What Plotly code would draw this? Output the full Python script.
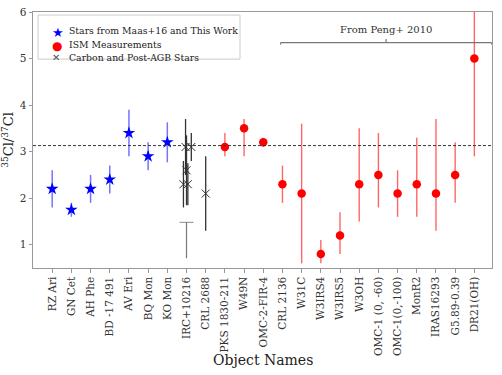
import plotly.graph_objects as go

names = ["RZ Ari", "GN Cet", "AH Phe", "BD -17 491", "AV Eri", "BQ Mon", "KO Mon",
         "IRC+10216", "CRL 2688", "PKS 1830-211", "W49N", "OMC-2-FIR-4", "CRL 2136",
         "W31C", "W3IRS4", "W3IRS5", "W3OH", "OMC-1 (0, -60)", "OMC-1(0,-100)",
         "MonR2", "IRAS16293", "G5.89-0.39", "DR21(OH)"]

# stars from Maas+16 and this work
star_names = ["RZ Ari", "GN Cet", "AH Phe", "BD -17 491", "AV Eri", "BQ Mon", "KO Mon"]
star_ratio = [2.2, 1.75, 2.2, 2.4, 3.4, 2.9, 3.2]
star_err = [0.4, 0.15, 0.3, 0.3, 0.5, 0.3, 0.43]

# carbon and post-AGB stars (several IRC+10216 measurements, jittered)
carbon_names = ["IRC+10216", "IRC+10216", "IRC+10216", "IRC+10216", "IRC+10216", "CRL 2688"]
carbon_ratio = [2.3, 3.1, 2.6, 2.3, 3.1, 2.1]
carbon_err = [0.5, 0.6, 0.75, 0.45, 0.3, 0.8]
carbon_jitter = [-0.16, -0.05, 0.0, 0.07, 0.25, 0.0]

# IRC+10216 limit
limit_name = "IRC+10216"
limit_top = 1.48
limit_bottom = 0.71

# ISM measurements
ism_names = ["PKS 1830-211", "W49N", "OMC-2-FIR-4", "CRL 2136", "W31C", "W3IRS4", "W3IRS5",
             "W3OH", "OMC-1 (0, -60)", "OMC-1(0,-100)", "MonR2", "IRAS16293",
             "G5.89-0.39", "DR21(OH)"]
ism_ratio = [3.1, 3.5, 3.2, 2.3, 2.1, 0.8, 1.2, 2.3, 2.5, 2.1, 2.3, 2.1, 2.5, 5.0]
ism_err_plus = [0.3, 0.2, 0.1, 0.4, 1.5, 0.3, 0.5, 1.2, 0.9, 0.5, 1.0, 1.6, 0.7, 2.0]
ism_err_minus = [0.2, 0.6, 0.1, 0.4, 1.5, 0.2, 0.4, 0.8, 0.7, 0.5, 0.7, 0.8, 0.6, 2.1]

solar_ratio = 3.13
peng_first, peng_last = "CRL 2136", "DR21(OH)"

legend_labels = ["Stars from Maas+16 and This Work", "ISM Measurements",
                 "Carbon and Post-AGB Stars"]

idx = {n: i for i, n in enumerate(names)}
font = "DejaVu Serif"

fig = go.Figure()

fig.add_hline(y=solar_ratio, line=dict(color="#333", width=1, dash="3px,2px"))

fig.add_trace(go.Scatter(
    x=[idx[n] for n in star_names], y=star_ratio, mode="markers",
    name=legend_labels[0],
    marker=dict(symbol="star", size=9.5, color="blue"),
    error_y=dict(type="data", array=star_err, color="rgba(0,0,255,0.55)",
                 thickness=1.5, width=0),
))
fig.add_trace(go.Scatter(
    x=[idx[n] for n in ism_names], y=ism_ratio, mode="markers",
    name=legend_labels[1],
    marker=dict(symbol="circle", size=8.5, color="red"),
    error_y=dict(type="data", symmetric=False, array=ism_err_plus,
                 arrayminus=ism_err_minus, color="rgba(255,0,0,0.6)",
                 thickness=1.4, width=0),
))
fig.add_trace(go.Scatter(
    x=[idx[n] + j for n, j in zip(carbon_names, carbon_jitter)], y=carbon_ratio,
    mode="markers", name=legend_labels[2],
    marker=dict(symbol="x-thin", size=8, color="#333",
                line=dict(width=1, color="#333")),
    error_y=dict(type="data", array=carbon_err, color="#333", thickness=1.3, width=0),
))
fig.add_trace(go.Scatter(
    x=[idx[limit_name]] * 2, y=[limit_top, limit_bottom], mode="lines+markers",
    line=dict(color="#777", width=1.2),
    marker=dict(symbol="line-ew", size=[10, 0], line=dict(width=1.2, color="#777")),
))

# "From Peng+ 2010" bracket
x0, x1 = idx[peng_first] - 0.1, idx[peng_last] + 0.9
xm = (x0 + x1) / 2
br = dict(type="line", xref="x", yref="y", line=dict(color="#777", width=1.2))
fig.add_shape(x0=x0, x1=x1, y0=5.34, y1=5.34, **br)
fig.add_shape(x0=x0, x1=x0, y0=5.34, y1=5.3, **br)
fig.add_shape(x0=x1, x1=x1, y0=5.34, y1=5.3, **br)
fig.add_shape(x0=xm, x1=xm, y0=5.34, y1=5.42, **br)
fig.add_annotation(x=xm, y=5.62, text="From Peng+ 2010", showarrow=False,
                   font=dict(family=font, size=10, color="#333"))

# compact legend box drawn by hand
fig.add_shape(type="rect", xref="paper", yref="paper", x0=0.011, x1=0.451,
              y0=0.816, y1=0.988, line=dict(color="#ccc", width=1), fillcolor="white",
              layer="above")
leg_sym = [("★", "blue", 13), ("●", "red", 12), ("✕", "#555", 10)]
leg_y = [0.957, 0.904, 0.851]
for (sym, col, sz), lab, yy in zip(leg_sym, legend_labels, leg_y):
    fig.add_annotation(xref="paper", yref="paper", x=0.037, y=yy, text=sym,
                       showarrow=False, font=dict(family="DejaVu Sans", size=sz, color=col))
    fig.add_annotation(xref="paper", yref="paper", x=0.074, y=yy, text=lab,
                       xanchor="left", showarrow=False,
                       font=dict(family=font, size=9.3, color="#222"))

# x title placed by hand so it sits where the reference has it
fig.add_annotation(xref="paper", yref="paper", x=0.5, y=-0.36, text="Object Names",
                   showarrow=False, yanchor="middle",
                   font=dict(family=font, size=14, color="#222"))

axis_common = dict(showline=True, mirror=True, linecolor="#999", linewidth=1,
                   ticks="outside", ticklen=3.5, tickcolor="#999", showgrid=False,
                   zeroline=False, automargin=False,
                   tickfont=dict(family=font, size=10.5, color="#333"))

fig.update_xaxes(range=[-1, 22.92], tickvals=list(range(len(names))), ticktext=names,
                 tickangle=-90, **axis_common)
fig.update_yaxes(range=[0.5, 6], tickvals=[1, 2, 3, 4, 5, 6],
                 title=dict(text="<sup>35</sup>Cl/<sup>37</sup>Cl",
                            font=dict(family=font, size=13, color="#222")),
                 **axis_common)

fig.update_layout(
    width=502, height=375,
    margin=dict(l=33, r=10, t=12, b=107),
    plot_bgcolor="white", paper_bgcolor="white",
    showlegend=False,
)

fig.write_html("out.html", config={"displayModeBar": False},
               post_script="document.body.style.margin='0';")
